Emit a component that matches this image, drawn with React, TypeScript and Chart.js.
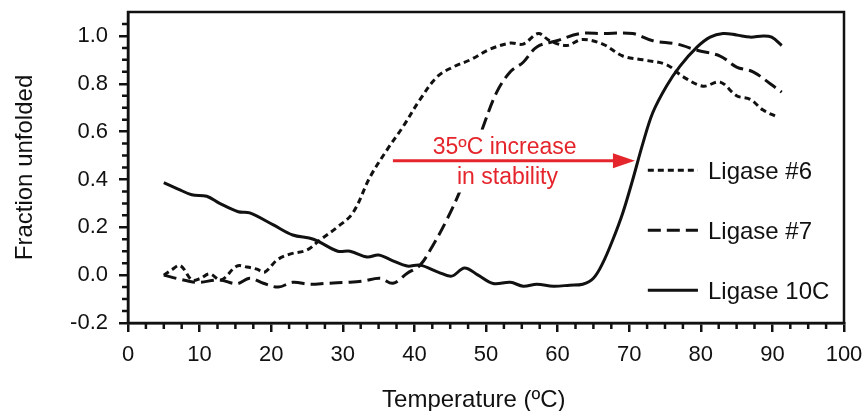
import React, { useEffect, useRef } from "react";
import { Chart, registerables } from "chart.js";

Chart.register(...registerables);

// ---------- data ----------
const SERIES_LABELS = ["Ligase #6", "Ligase #7", "Ligase 10C"];

const temp6 = [5, 6, 7.3, 8.9, 10, 11.4, 13, 15.2, 16.6, 18, 19.1, 20.8, 22.6, 25, 26.8, 29.2, 31.4, 33.8, 36.2, 38.4, 40.8, 43.2, 45.4, 47.8, 50.6, 53.4, 55.2, 57.3, 58.9, 61.3, 63.4, 66.3, 69.1, 71.9, 75.2, 77.5, 80.3, 82.7, 85, 86.9, 88.7, 90.8];
const frac6 = [0.0, 0.02, 0.04, -0.02, -0.015, 0.005, -0.02, 0.038, 0.034, 0.025, 0.013, 0.063, 0.088, 0.105, 0.147, 0.2, 0.26, 0.41, 0.525, 0.62, 0.735, 0.83, 0.87, 0.9, 0.945, 0.97, 0.966, 1.01, 0.98, 0.96, 0.985, 0.966, 0.916, 0.9, 0.88, 0.83, 0.79, 0.807, 0.75, 0.735, 0.69, 0.66];

const temp7 = [5, 7, 9.6, 12.8, 15.2, 17, 18.9, 21, 23, 25.4, 27.8, 30.6, 32.8, 35.2, 37, 39, 40.8, 42.5, 44.5, 46.2, 48, 49.6, 51.5, 53.4, 55.2, 57.1, 59.9, 63.1, 66.3, 70.5, 73.3, 76.7, 79.5, 82.7, 85, 87.3, 89.7, 91.3];
const frac7 = [0.0, -0.015, -0.03, -0.02, -0.036, -0.013, -0.034, -0.05, -0.03, -0.038, -0.034, -0.03, -0.025, -0.013, -0.034, 0.008, 0.042, 0.12, 0.23, 0.34, 0.48, 0.62, 0.765, 0.85, 0.89, 0.954, 0.98, 1.01, 1.01, 1.01, 0.98, 0.966, 0.94, 0.916, 0.87, 0.85, 0.8, 0.765];

const temp10C = [5, 7, 8.9, 11, 12.8, 15.4, 17, 20.3, 23, 25.9, 29.3, 31, 33.4, 35, 37, 39, 40.8, 43.3, 45.2, 47, 48.9, 51, 53.4, 55.2, 57.1, 59.4, 61.7, 63.5, 65, 66.3, 67.7, 69.1, 70.5, 71.9, 73.3, 75.2, 77.1, 79.5, 81.3, 83.1, 85, 86.9, 88.7, 89.9, 91.3];
const frac10C = [0.387, 0.36, 0.336, 0.33, 0.3, 0.265, 0.26, 0.21, 0.168, 0.15, 0.1, 0.1, 0.076, 0.084, 0.06, 0.038, 0.042, 0.013, -0.004, 0.03, 0.0, -0.035, -0.03, -0.046, -0.038, -0.046, -0.042, -0.038, -0.013, 0.05, 0.147, 0.26, 0.4, 0.55, 0.68, 0.79, 0.874, 0.954, 0.995, 1.01, 1.004, 0.995, 1.0, 0.995, 0.96];

const X_TICKS = [0, 10, 20, 30, 40, 50, 60, 70, 80, 90, 100];
const X_MINOR = [2.5, 5, 7.5, 12.5, 15, 17.5, 22.5, 25, 27.5, 32.5, 35, 37.5, 42.5, 45, 47.5, 52.5, 55, 57.5, 62.5, 65, 67.5, 72.5, 75, 77.5, 82.5, 85, 87.5, 92.5, 95, 97.5];
const Y_TICKS = [-0.2, 0, 0.2, 0.4, 0.6, 0.8, 1.0];
const Y_MINOR = [-0.15, -0.1, -0.05, 0.05, 0.1, 0.15, 0.25, 0.3, 0.35, 0.45, 0.5, 0.55, 0.65, 0.7, 0.75, 0.85, 0.9, 0.95, 1.05];

const X_TITLE = "Temperature (ºC)";
const Y_TITLE = "Fraction unfolded";
const NOTE_LINES = ["35ºC increase", "in stability"];

// annotation anchors (data coordinates)
const ARROW_FROM_T = 37;
const ARROW_TO_T = 70.8;
const ARROW_LEVEL = 0.478;
const NOTE_T = [52.6, 53.0];
const NOTE_BASE = [0.508, 0.383];

const FONT = "'Liberation Sans', Arial, Helvetica, sans-serif";
const INK = "#111111";
const RED = "#e5252c";
const DASHES = [[6, 4], [13, 6], []];

const toPts = (xs: number[], ys: number[]) => xs.map((x, i) => ({ x, y: ys[i] }));

const decor = {
  id: "decor",
  afterDatasetsDraw(chart: any) {
    const { ctx, scales } = chart;
    const x = scales.x, y = scales.y;
    ctx.save();
    ctx.font = `23px ${FONT}`;
    ctx.textAlign = "center";
    ctx.textBaseline = "alphabetic";
    // white backgrounds behind annotation text
    NOTE_LINES.forEach((t, i) => {
      const cx = x.getPixelForValue(NOTE_T[i]);
      const by = y.getPixelForValue(NOTE_BASE[i]);
      const w = ctx.measureText(t).width;
      ctx.fillStyle = "#ffffff";
      ctx.fillRect(cx - w / 2 - 3, by - 24, w + 6, 33);
    });
    // arrow
    const x1 = x.getPixelForValue(ARROW_FROM_T);
    const x2 = x.getPixelForValue(ARROW_TO_T);
    const ay = y.getPixelForValue(ARROW_LEVEL);
    ctx.strokeStyle = RED;
    ctx.fillStyle = RED;
    ctx.lineWidth = 3;
    ctx.beginPath();
    ctx.moveTo(x1, ay);
    ctx.lineTo(x2 - 18, ay);
    ctx.stroke();
    ctx.beginPath();
    ctx.moveTo(x2, ay);
    ctx.lineTo(x2 - 22, ay - 7.5);
    ctx.lineTo(x2 - 22, ay + 7.5);
    ctx.closePath();
    ctx.fill();
    NOTE_LINES.forEach((t, i) => {
      ctx.fillText(t, x.getPixelForValue(NOTE_T[i]), y.getPixelForValue(NOTE_BASE[i]));
    });
    ctx.restore();
  },
  afterDraw(chart: any) {
    const { ctx, chartArea: a, scales } = chart;
    const x = scales.x, y = scales.y;
    ctx.save();
    ctx.strokeStyle = INK;
    // frame
    ctx.lineWidth = 2.5;
    ctx.strokeRect(a.left, a.top, a.right - a.left, a.bottom - a.top);
    // minor ticks
    ctx.beginPath();
    X_MINOR.forEach((v) => {
      const px = x.getPixelForValue(v);
      ctx.moveTo(px, a.bottom);
      ctx.lineTo(px, a.bottom + 6);
    });
    Y_MINOR.forEach((v) => {
      const py = y.getPixelForValue(v);
      ctx.moveTo(a.left, py);
      ctx.lineTo(a.left - 6, py);
    });
    ctx.stroke();
    // axis titles
    ctx.fillStyle = INK;
    ctx.font = `24px ${FONT}`;
    ctx.textAlign = "center";
    ctx.textBaseline = "alphabetic";
    ctx.fillText(X_TITLE, x.getPixelForValue(48.3), 407);
    ctx.save();
    ctx.translate(32, y.getPixelForValue(0.45));
    ctx.rotate(-Math.PI / 2);
    ctx.fillText(Y_TITLE, 0, 0);
    ctx.restore();
    // legend
    const rows = [0.438, 0.188, -0.063];
    ctx.font = `24px ${FONT}`;
    ctx.textAlign = "left";
    chart.data.datasets.forEach((ds: any, i: number) => {
      const ly = y.getPixelForValue(rows[i]);
      const lx0 = x.getPixelForValue(72.6);
      const lx1 = x.getPixelForValue(79.6);
      ctx.strokeStyle = ds.borderColor;
      ctx.lineWidth = ds.borderWidth;
      ctx.setLineDash(ds.borderDash || []);
      ctx.beginPath();
      ctx.moveTo(lx0, ly);
      ctx.lineTo(lx1, ly);
      ctx.stroke();
      ctx.setLineDash([]);
      ctx.fillStyle = INK;
      ctx.fillText(ds.label, x.getPixelForValue(81.0), ly + 8.5);
    });
    ctx.restore();
  },
};

export default function App() {
  const ref = useRef<HTMLCanvasElement | null>(null);
  useEffect(() => {
    if (!ref.current) return;
    const series = [toPts(temp6, frac6), toPts(temp7, frac7), toPts(temp10C, frac10C)];
    const chart = new Chart(ref.current, {
      type: "line",
      data: {
        datasets: series.map((pts, i) => ({
          label: SERIES_LABELS[i],
          data: pts,
          borderColor: INK,
          borderWidth: 3,
          borderDash: DASHES[i],
          pointRadius: 0,
          fill: false,
          tension: 0.35,
        })),
      },
      options: {
        animation: false,
        responsive: false,
        events: [],
        layout: { padding: { top: 12, right: 22, left: 0, bottom: 0 } },
        plugins: { legend: { display: false }, tooltip: { enabled: false }, title: { display: false } },
        scales: {
          x: {
            type: "linear",
            min: 0,
            max: 100,
            afterBuildTicks: (s: any) => {
              s.ticks = X_TICKS.map((v) => ({ value: v }));
            },
            afterFit: (s: any) => {
              s.height = 88;
              s.paddingLeft = 0;
              s.paddingRight = 0;
              s.paddingTop = 0;
              s.paddingBottom = 0;
            },
            grid: { drawOnChartArea: false, drawTicks: true, tickLength: 9, lineWidth: 2.5, color: INK },
            border: { display: true, color: INK, width: 2.5 },
            ticks: { color: INK, font: { family: FONT, size: 22 }, padding: 10, maxRotation: 0, autoSkip: false },
          },
          y: {
            type: "linear",
            min: -0.2,
            max: 1.1,
            afterBuildTicks: (s: any) => {
              s.ticks = Y_TICKS.map((v) => ({ value: v }));
            },
            afterFit: (s: any) => {
              s.width = 128;
              s.paddingTop = 0;
              s.paddingBottom = 0;
              s.paddingLeft = 0;
              s.paddingRight = 0;
            },
            grid: { drawOnChartArea: false, drawTicks: true, tickLength: 9, lineWidth: 2.5, color: INK },
            border: { display: true, color: INK, width: 2.5 },
            ticks: {
              color: INK,
              font: { family: FONT, size: 22 },
              padding: 11,
              autoSkip: false,
              callback: (v: any) => Number(v).toFixed(1),
            },
          },
        },
      },
      plugins: [decor],
    });
    return () => chart.destroy();
  }, []);
  return (
    <div style={{ position: "absolute", left: 0, top: 0, width: 866, height: 411, background: "#fff" }}>
      <canvas ref={ref} width={866} height={411} />
    </div>
  );
}
